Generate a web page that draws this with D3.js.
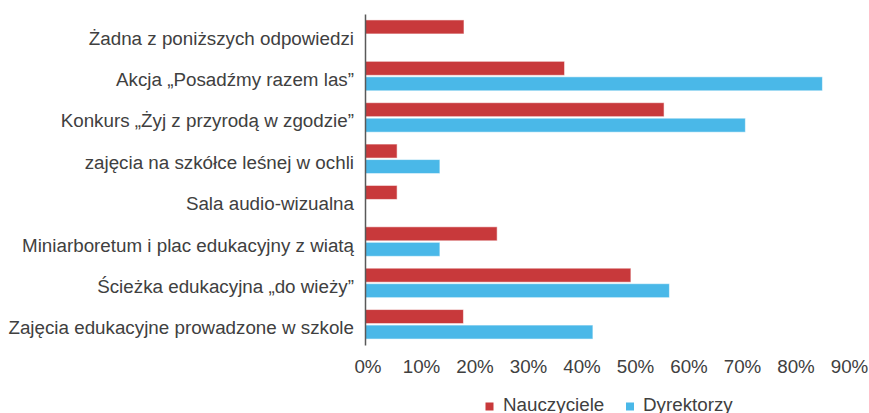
<!DOCTYPE html>
<html>
<head>
<meta charset="utf-8">
<script src="https://cdn.jsdelivr.net/npm/d3@7"></script>
<style>
  body { margin: 0; background: #fff; }
  svg { display: block; font-family: "Liberation Sans", Arial, sans-serif; }
</style>
</head>
<body>
<div id="chart"></div>
<script>
const categories = [
    "Żadna z poniższych odpowiedzi",
    "Akcja „Posadźmy razem las”",
    "Konkurs „Żyj z przyrodą w zgodzie”",
    "zajęcia na szkółce leśnej w ochli",
    "Sala audio-wizualna",
    "Miniarboretum i plac edukacyjny z wiatą",
    "Ścieżka edukacyjna „do wieży”",
    "Zajęcia edukacyjne prowadzone w szkole"
];
const seriesNames = ["Nauczyciele", "Dyrektorzy"];
const nauczyciele = [0.185, 0.373, 0.559, 0.06, 0.06, 0.247, 0.497, 0.184];
const dyrektorzy = [0, 0.855, 0.711, 0.14, 0, 0.14, 0.569, 0.426];
const xTicks = [0, 0.1, 0.2, 0.3, 0.4, 0.5, 0.6, 0.7, 0.8, 0.9];

const width = 869, height = 413;
const colors = {"Nauczyciele": "#c8393b", "Dyrektorzy": "#4ab8e8"};
const textColor = "#404040";
const fontSize = "18.8px";

const svg = d3.select("#chart").append("svg")
    .attr("width", width)
    .attr("height", height);

const x = d3.scaleLinear()
    .domain([0, 0.9])
    .range([365, 846.5]);

const y0 = d3.scaleBand()
    .domain(categories)
    .range([14, 345]);

const y1 = d3.scaleBand()
    .domain(seriesNames)
    .range([0, y0.bandwidth()])
    .paddingInner(0.097)
    .paddingOuter(0.383);

const rows = categories.map((c, i) => ({
    category: c,
    values: [
        {series: "Nauczyciele", value: nauczyciele[i]},
        {series: "Dyrektorzy", value: dyrektorzy[i]}
    ]
}));

const groups = svg.append("g")
    .selectAll("g")
    .data(rows)
    .enter()
    .append("g")
    .attr("transform", d => "translate(0," + y0(d.category) + ")");

groups.selectAll("rect")
    .data(d => d.values.filter(v => v.value > 0))
    .enter()
    .append("rect")
    .attr("x", x(0))
    .attr("y", d => y1(d.series))
    .attr("width", d => x(d.value) - x(0))
    .attr("height", y1.bandwidth())
    .attr("fill", d => colors[d.series])
    .attr("stroke", "#ffffff")
    .attr("stroke-opacity", 0.55)
    .attr("stroke-width", 1);

// category axis
const yAxis = svg.append("g")
    .attr("transform", "translate(" + x(0) + ",0)")
    .call(d3.axisLeft(y0).tickSize(0).tickSizeOuter(0).tickPadding(11));

yAxis.select(".domain")
    .attr("stroke", "#595959")
    .attr("stroke-width", 1.5);

yAxis.selectAll("text")
    .attr("dy", "0.53em")
    .attr("fill", textColor)
    .style("font-size", fontSize)
    .style("font-family", "'Liberation Sans', Arial, sans-serif");

// value axis
const xAxis = svg.append("g")
    .attr("transform", "translate(2.5,345)")
    .call(d3.axisBottom(x).tickValues(xTicks).tickFormat(d3.format(".0%")).tickSize(0).tickPadding(14.3));

xAxis.select(".domain").remove();
xAxis.selectAll("text")
    .attr("fill", textColor)
    .style("font-size", fontSize)
    .style("font-family", "'Liberation Sans', Arial, sans-serif");

// legend
const legendItems = [
    {name: "Nauczyciele", sx: 485.5, tx: 503},
    {name: "Dyrektorzy", sx: 626, tx: 643}
];

const legend = svg.append("g")
    .selectAll("g")
    .data(legendItems)
    .enter()
    .append("g");

legend.append("rect")
    .attr("x", d => d.sx)
    .attr("y", 402.5)
    .attr("width", 8)
    .attr("height", 8)
    .attr("fill", d => colors[d.name]);

legend.append("text")
    .attr("x", d => d.tx)
    .attr("y", 410.5)
    .attr("fill", textColor)
    .style("font-size", fontSize)
    .text(d => d.name);
</script>
</body>
</html>
